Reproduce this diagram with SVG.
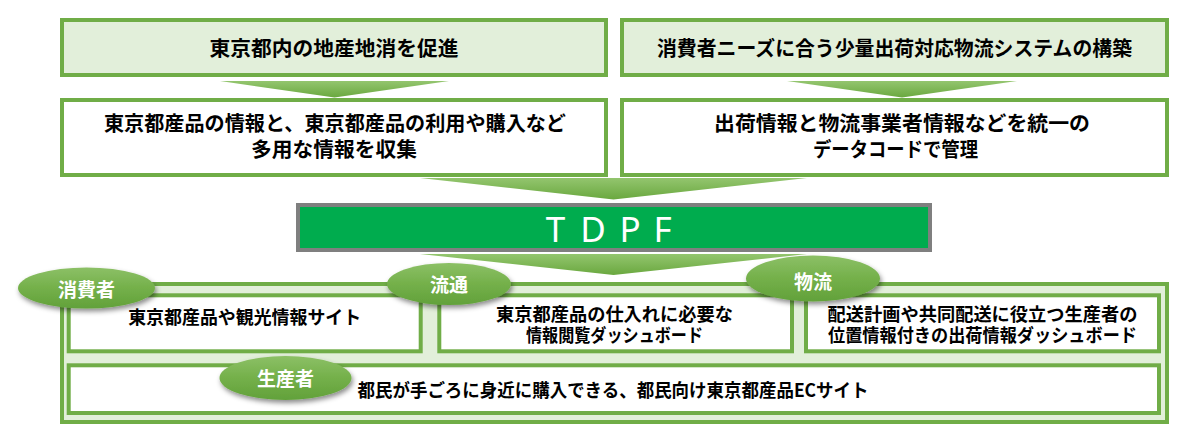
<svg xmlns="http://www.w3.org/2000/svg" width="1197" height="442" viewBox="0 0 1197 442">
<style>
.box{fill:#ffffff;stroke:#70ad47;stroke-width:4}
.hdr{fill:#e2efda;stroke:#70ad47;stroke-width:4}
.t{font-family:'Noto Sans CJK JP','Noto Sans',sans-serif;font-weight:700;fill:#000;text-anchor:middle}
.lbl{font-family:'Noto Sans CJK JP','Noto Sans',sans-serif;font-weight:700;fill:#fff;text-anchor:middle;font-size:19px}
.arr{fill:url(#ag)}
.ell{fill:url(#eg);filter:url(#sh)}
</style>
<defs>
<linearGradient id="ag" x1="0" y1="0" x2="0" y2="1">
<stop offset="0" stop-color="#93c56e"/>
<stop offset="1" stop-color="#6aa83f"/>
</linearGradient>
<linearGradient id="eg" x1="0" y1="0" x2="0" y2="1">
<stop offset="0" stop-color="#8cc066"/>
<stop offset="0.5" stop-color="#74b04a"/>
<stop offset="1" stop-color="#62a13a"/>
</linearGradient>
<filter id="sh" x="-20%" y="-30%" width="140%" height="170%">
<feDropShadow dx="1.5" dy="3" stdDeviation="2.5" flood-color="#000" flood-opacity="0.45"/>
</filter>
</defs>

<g id="goal-left">
<rect class="hdr" x="62" y="20" width="544" height="55"/>
<text class="t" x="334" y="56" font-size="20.5" textLength="249" lengthAdjust="spacingAndGlyphs">東京都内の地産地消を促進</text>
</g>
<g id="goal-right">
<rect class="hdr" x="622" y="20" width="545" height="55"/>
<text class="t" x="894.5" y="56" font-size="20.5" textLength="475" lengthAdjust="spacingAndGlyphs">消費者ニーズに合う少量出荷対応物流システムの構築</text>
</g>
<g id="info-left">
<rect class="box" x="62" y="100" width="544" height="75"/>
<text class="t" x="335" y="131" font-size="20.5" textLength="462" lengthAdjust="spacingAndGlyphs">東京都産品の情報と、東京都産品の利用や購入など</text>
<text class="t" x="334" y="157" font-size="20.5" textLength="166" lengthAdjust="spacingAndGlyphs">多用な情報を収集</text>
</g>
<g id="info-right">
<rect class="box" x="622" y="100" width="545" height="75"/>
<text class="t" x="902" y="131" font-size="20.5" textLength="376" lengthAdjust="spacingAndGlyphs">出荷情報と物流事業者情報などを統一の</text>
<text class="t" x="895.5" y="157" font-size="20.5" textLength="165" lengthAdjust="spacingAndGlyphs">データコードで管理</text>
</g>

<g id="connectors">
<polygon class="arr" points="220,81 449,81 334.5,97.5"/>
<polygon class="arr" points="787,81 1017,81 902,97.5"/>
<polygon class="arr" points="420,178 807,178 613.5,199.5"/>
<polygon class="arr" points="420,254 807,254 613.5,275"/>
</g>

<g id="tdpf">
<rect x="298" y="205" width="632" height="45" fill="#00ac4e" stroke="#7f7f7f" stroke-width="4"/>
<text x="555.5 593 630 662.5" y="241.5" font-family="'Noto Sans','Liberation Sans',sans-serif" font-size="35" fill="#fff" text-anchor="middle">TDPF</text>
</g>

<g id="services">
<rect class="hdr" x="62" y="284" width="1105" height="138"/>
</g>
<g id="consumer-site">
<rect class="box" x="68.7" y="295.3" width="352" height="56"/>
<text class="t" x="244.7" y="324" font-size="18.5" textLength="233" lengthAdjust="spacingAndGlyphs">東京都産品や観光情報サイト</text>
</g>
<g id="distribution-dashboard">
<rect class="box" x="439.3" y="295.3" width="352.7" height="56"/>
<text class="t" x="614.5" y="320.5" font-size="18.5" textLength="237" lengthAdjust="spacingAndGlyphs">東京都産品の仕入れに必要な</text>
<text class="t" x="614.5" y="341.5" font-size="18.5" textLength="177" lengthAdjust="spacingAndGlyphs">情報閲覧ダッシュボード</text>
</g>
<g id="logistics-dashboard">
<rect class="box" x="806" y="295.3" width="353" height="56"/>
<text class="t" x="982.5" y="320.5" font-size="18.5" textLength="310" lengthAdjust="spacingAndGlyphs">配送計画や共同配送に役立つ生産者の</text>
<text class="t" x="982.5" y="341.5" font-size="18.5" textLength="309" lengthAdjust="spacingAndGlyphs">位置情報付きの出荷情報ダッシュボード</text>
</g>
<g id="ec-site">
<rect class="box" x="68.7" y="365.3" width="1090.3" height="47.7"/>
<text class="t" x="613" y="397" font-size="18.5" textLength="511" lengthAdjust="spacingAndGlyphs">都民が手ごろに身近に購入できる、都民向け東京都産品ECサイト</text>
</g>

<g id="label-consumer">
<ellipse class="ell" cx="86.5" cy="288" rx="68.5" ry="20.5"/>
<text class="lbl" x="86.5" y="297">消費者</text>
</g>
<g id="label-distribution">
<ellipse class="ell" cx="449" cy="284" rx="62" ry="21"/>
<text class="lbl" x="449" y="292">流通</text>
</g>
<g id="label-logistics">
<ellipse class="ell" cx="813" cy="278.5" rx="67" ry="23"/>
<text class="lbl" x="813" y="288.5">物流</text>
</g>
<g id="label-producer">
<ellipse class="ell" cx="285.5" cy="378" rx="66" ry="22"/>
<text class="lbl" x="285.5" y="386">生産者</text>
</g>
</svg>
